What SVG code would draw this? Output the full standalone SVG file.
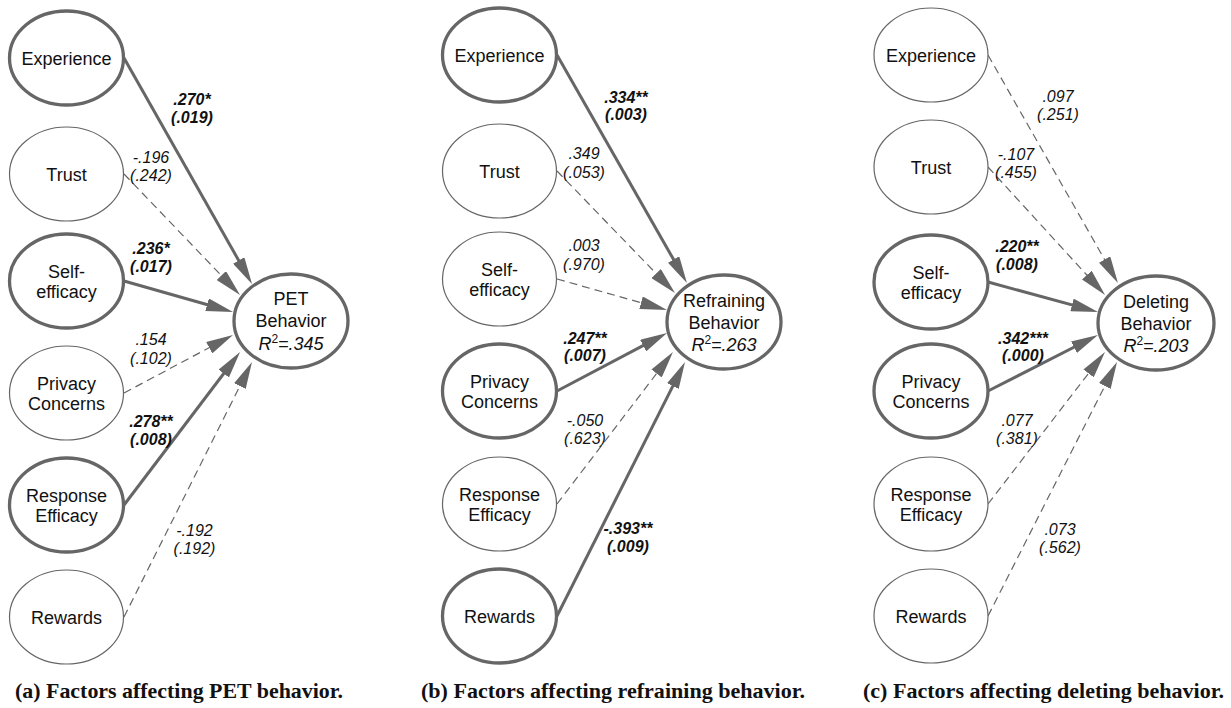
<svg xmlns="http://www.w3.org/2000/svg" width="1231" height="708" viewBox="0 0 1231 708">
<style>
.bg{fill:#fff}
.n{fill:#fff;stroke:#666}
.thk{stroke-width:3.3}
.thn{stroke-width:1.2}
.lb{font-family:"Liberation Sans",Arial,sans-serif;font-size:18px;fill:#111;text-anchor:middle}
.el{font-family:"Liberation Sans",Arial,sans-serif;font-size:16px;font-style:italic;fill:#111;text-anchor:middle}
.sig{font-weight:bold}
.c{fill:none;stroke:#666}
.cs{stroke-width:3}
.cd{stroke-width:1.2;stroke-dasharray:8 5}
.cap{font-family:"Liberation Serif","Times New Roman",serif;font-weight:bold;font-size:21.5px;fill:#111}
</style>
<defs>
<marker id="ah" markerUnits="userSpaceOnUse" markerWidth="27" markerHeight="13" refX="17" refY="6.5" orient="auto">
<path d="M0,0 L27,6.5 L0,13 z" fill="#666"/>
</marker>
</defs>
<rect class="bg" x="0" y="0" width="1231" height="708"/>

<g id="connectors">
<!-- panel a -->
<line class="c cs" x1="124" y1="58" x2="247.1" y2="275.3" marker-end="url(#ah)"/>
<line class="c cd" x1="124" y1="174" x2="233.1" y2="287.8" marker-end="url(#ah)"/>
<line class="c cs" x1="124" y1="281" x2="223.4" y2="309.3" marker-end="url(#ah)"/>
<line class="c cd" x1="124" y1="393" x2="224.2" y2="339.7" marker-end="url(#ah)"/>
<line class="c cs" x1="124" y1="505" x2="234.0" y2="360.0" marker-end="url(#ah)"/>
<line class="c cd" x1="124" y1="617" x2="247.5" y2="370.9" marker-end="url(#ah)"/>
<!-- panel b -->
<line class="c cs" x1="557" y1="55" x2="682.0" y2="274.3" marker-end="url(#ah)"/>
<line class="c cd" x1="557" y1="171" x2="668.0" y2="285.8" marker-end="url(#ah)"/>
<line class="c cd" x1="557" y1="279" x2="657.4" y2="307.3" marker-end="url(#ah)"/>
<line class="c cs" x1="557" y1="391" x2="658.2" y2="337.7" marker-end="url(#ah)"/>
<line class="c cd" x1="557" y1="504" x2="666.9" y2="360.0" marker-end="url(#ah)"/>
<line class="c cs" x1="557" y1="616" x2="680.5" y2="370.9" marker-end="url(#ah)"/>
<!-- panel c -->
<line class="c cd" x1="988" y1="55" x2="1113.0" y2="274.3" marker-end="url(#ah)"/>
<line class="c cd" x1="988" y1="167" x2="1098.3" y2="287.6" marker-end="url(#ah)"/>
<line class="c cs" x1="988" y1="282" x2="1088.4" y2="309.4" marker-end="url(#ah)"/>
<line class="c cs" x1="988" y1="391" x2="1089.1" y2="339.5" marker-end="url(#ah)"/>
<line class="c cd" x1="988" y1="504" x2="1098.9" y2="359.9" marker-end="url(#ah)"/>
<line class="c cd" x1="988" y1="616" x2="1112.5" y2="370.9" marker-end="url(#ah)"/>
</g>

<g id="edge-labels">
<text class="el sig" x="192" y="105">.270*</text>
<text class="el sig" x="192" y="123">(.019)</text>
<text class="el" x="151" y="163">-.196</text>
<text class="el" x="151" y="181">(.242)</text>
<text class="el sig" x="151" y="254">.236*</text>
<text class="el sig" x="151" y="272">(.017)</text>
<text class="el" x="151" y="345">.154</text>
<text class="el" x="151" y="364">(.102)</text>
<text class="el sig" x="151" y="427">.278**</text>
<text class="el sig" x="151" y="445">(.008)</text>
<text class="el" x="194.5" y="536">-.192</text>
<text class="el" x="194.5" y="554">(.192)</text>

<text class="el sig" x="626" y="103">.334**</text>
<text class="el sig" x="626" y="120">(.003)</text>
<text class="el" x="584" y="159">.349</text>
<text class="el" x="584" y="178">(.053)</text>
<text class="el" x="584" y="251">.003</text>
<text class="el" x="584" y="270">(.970)</text>
<text class="el sig" x="585" y="344">.247**</text>
<text class="el sig" x="585" y="361">(.007)</text>
<text class="el" x="585" y="426">-.050</text>
<text class="el" x="585" y="444">(.623)</text>
<text class="el sig" x="628" y="534">-.393**</text>
<text class="el sig" x="628" y="552">(.009)</text>

<text class="el" x="1058" y="102">.097</text>
<text class="el" x="1058" y="120">(.251)</text>
<text class="el" x="1016" y="160">-.107</text>
<text class="el" x="1016" y="178">(.455)</text>
<text class="el sig" x="1017" y="252">.220**</text>
<text class="el sig" x="1017" y="270">(.008)</text>
<text class="el sig" x="1023" y="344">.342***</text>
<text class="el sig" x="1023" y="361">(.000)</text>
<text class="el" x="1017" y="426">.077</text>
<text class="el" x="1017" y="444">(.381)</text>
<text class="el" x="1060" y="535">.073</text>
<text class="el" x="1060" y="553">(.562)</text>
</g>

<!-- panel a nodes -->
<g id="a-experience"><ellipse class="n thk" cx="66.5" cy="58" rx="57" ry="47"/><text class="lb" x="66.5" y="64.5">Experience</text></g>
<g id="a-trust"><ellipse class="n thn" cx="66.5" cy="174" rx="57" ry="47"/><text class="lb" x="66.5" y="180.5">Trust</text></g>
<g id="a-selfefficacy"><ellipse class="n thk" cx="66.5" cy="281" rx="57" ry="47"/><text class="lb" x="66.5" y="278">Self-</text><text class="lb" x="66.5" y="298">efficacy</text></g>
<g id="a-privacy"><ellipse class="n thn" cx="66.5" cy="393" rx="57" ry="47"/><text class="lb" x="66.5" y="390">Privacy</text><text class="lb" x="66.5" y="410">Concerns</text></g>
<g id="a-response"><ellipse class="n thk" cx="66.5" cy="505" rx="57" ry="47"/><text class="lb" x="66.5" y="502">Response</text><text class="lb" x="66.5" y="522">Efficacy</text></g>
<g id="a-rewards"><ellipse class="n thn" cx="66.5" cy="617" rx="57" ry="47"/><text class="lb" x="66.5" y="623.5">Rewards</text></g>
<g id="a-target"><ellipse class="n thk" cx="291" cy="321" rx="57" ry="47"/><text class="lb" x="291" y="305">PET</text><text class="lb" x="291" y="327">Behavior</text><text class="lb" x="291" y="350"><tspan font-style="italic">R</tspan><tspan font-size="12" dy="-7">2</tspan><tspan font-style="italic" dy="7">=.345</tspan></text></g>

<!-- panel b nodes -->
<g id="b-experience"><ellipse class="n thk" cx="499.5" cy="55" rx="57" ry="47"/><text class="lb" x="499.5" y="61.5">Experience</text></g>
<g id="b-trust"><ellipse class="n thn" cx="499.5" cy="171" rx="57" ry="47"/><text class="lb" x="499.5" y="177.5">Trust</text></g>
<g id="b-selfefficacy"><ellipse class="n thn" cx="499.5" cy="279" rx="57" ry="47"/><text class="lb" x="499.5" y="276">Self-</text><text class="lb" x="499.5" y="296">efficacy</text></g>
<g id="b-privacy"><ellipse class="n thk" cx="499.5" cy="391" rx="57" ry="47"/><text class="lb" x="499.5" y="388">Privacy</text><text class="lb" x="499.5" y="408">Concerns</text></g>
<g id="b-response"><ellipse class="n thn" cx="499.5" cy="504" rx="57" ry="47"/><text class="lb" x="499.5" y="501">Response</text><text class="lb" x="499.5" y="521">Efficacy</text></g>
<g id="b-rewards"><ellipse class="n thk" cx="499.5" cy="616" rx="57" ry="47"/><text class="lb" x="499.5" y="622.5">Rewards</text></g>
<g id="b-target"><ellipse class="n thk" cx="724" cy="322" rx="57" ry="47"/><text class="lb" x="724" y="307">Refraining</text><text class="lb" x="724" y="329">Behavior</text><text class="lb" x="724" y="351"><tspan font-style="italic">R</tspan><tspan font-size="12" dy="-7">2</tspan><tspan font-style="italic" dy="7">=.263</tspan></text></g>

<!-- panel c nodes -->
<g id="c-experience"><ellipse class="n thn" cx="931" cy="55" rx="57" ry="47"/><text class="lb" x="931" y="61.5">Experience</text></g>
<g id="c-trust"><ellipse class="n thn" cx="931" cy="167" rx="57" ry="47"/><text class="lb" x="931" y="173.5">Trust</text></g>
<g id="c-selfefficacy"><ellipse class="n thk" cx="931" cy="282" rx="57" ry="47"/><text class="lb" x="931" y="279">Self-</text><text class="lb" x="931" y="299">efficacy</text></g>
<g id="c-privacy"><ellipse class="n thk" cx="931" cy="391" rx="57" ry="47"/><text class="lb" x="931" y="388">Privacy</text><text class="lb" x="931" y="408">Concerns</text></g>
<g id="c-response"><ellipse class="n thn" cx="931" cy="504" rx="57" ry="47"/><text class="lb" x="931" y="501">Response</text><text class="lb" x="931" y="521">Efficacy</text></g>
<g id="c-rewards"><ellipse class="n thn" cx="931" cy="616" rx="57" ry="47"/><text class="lb" x="931" y="622.5">Rewards</text></g>
<g id="c-target"><ellipse class="n thk" cx="1156" cy="323" rx="58" ry="47"/><text class="lb" x="1156" y="308">Deleting</text><text class="lb" x="1156" y="330">Behavior</text><text class="lb" x="1156" y="352"><tspan font-style="italic">R</tspan><tspan font-size="12" dy="-7">2</tspan><tspan font-style="italic" dy="7">=.203</tspan></text></g>

<g id="captions">
<text class="cap" x="15" y="698" textLength="328" lengthAdjust="spacingAndGlyphs">(a) Factors affecting PET behavior.</text>
<text class="cap" x="421" y="698" textLength="384" lengthAdjust="spacingAndGlyphs">(b) Factors affecting refraining behavior.</text>
<text class="cap" x="863" y="698" textLength="361" lengthAdjust="spacingAndGlyphs">(c) Factors affecting deleting behavior.</text>
</g>
</svg>
